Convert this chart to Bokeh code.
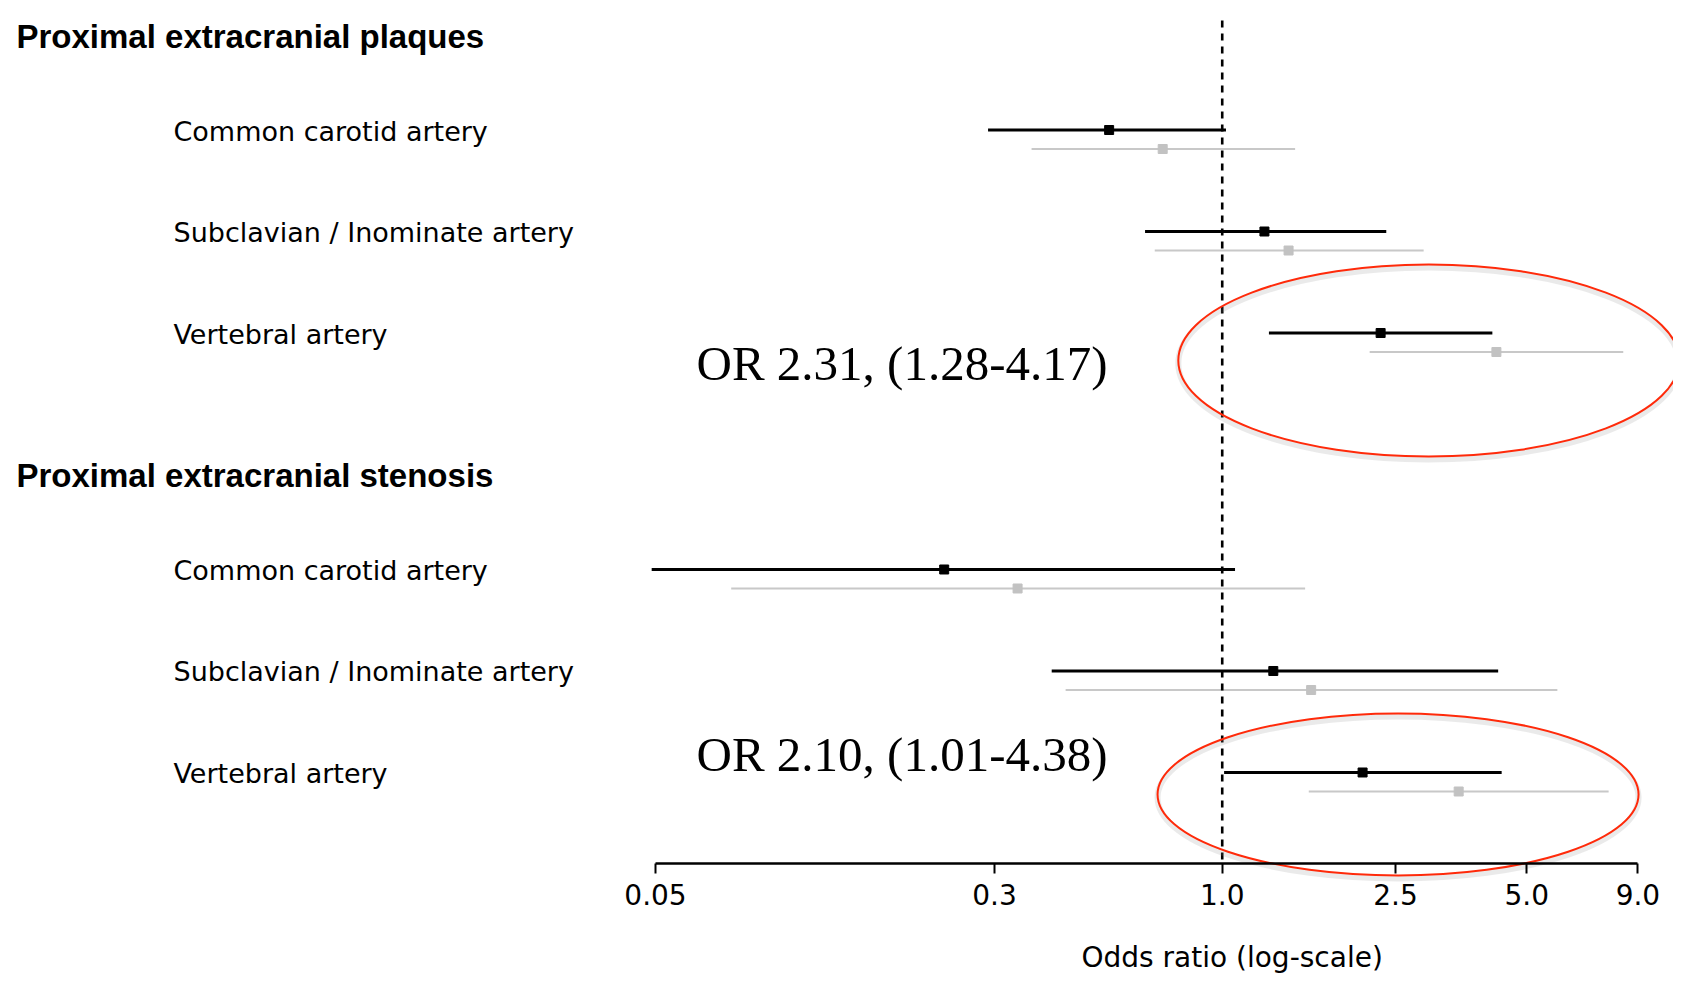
import math
from bokeh.plotting import figure
from bokeh.models import Range1d, FixedTicker, Title, CustomJSTickFormatter
from bokeh.core.properties import value
from bokeh.embed import file_html
from bokeh.resources import INLINE

# ---------------- data ----------------
sections = ["Proximal extracranial plaques", "Proximal extracranial stenosis"]
sites = ["Common carotid artery", "Subclavian / Inominate artery", "Vertebral artery"]

# black estimates (odds ratio with 95% CI), per row: plaques x3, stenosis x3
or_black = [0.55, 1.25, 2.31, 0.23, 1.31, 2.10]
lo_black = [0.29, 0.665, 1.28, 0.049, 0.406, 1.01]
hi_black = [1.02, 2.38, 4.17, 1.07, 4.30, 4.38]

# grey estimates
or_gray = [0.73, 1.42, 4.26, 0.339, 1.60, 3.49]
lo_gray = [0.365, 0.70, 2.18, 0.0746, 0.437, 1.58]
hi_gray = [1.47, 2.90, 8.33, 1.55, 5.88, 7.71]

tick_values = [0.05, 0.3, 1.0, 2.5, 5.0, 9.0]
tick_labels = ["0.05", "0.3", "1.0", "2.5", "5.0", "9.0"]
axis_title = "Odds ratio (log-scale)"

annotations = ["OR 2.31, (1.28-4.17)", "OR 2.10, (1.01-4.38)"]

# ---------------- layout helpers ----------------
LEFT = 8           # canvas px before the frame
TOP = 8
PX_DECADE = 435.6
X0_PX = 655.0      # page pixel of first tick (0.05)


def px2x(px):
    return 10 ** (math.log10(tick_values[0]) + (px - X0_PX) / PX_DECADE)


U = 101.5          # px per row slot
Y0 = 28.0          # page px of slot 0


def py2u(py):
    return (py - Y0) / U


FRAME_BOTTOM = 936
AXIS_Y = 863

row_slots = [1, 2, 3, 5.33, 6.33, 7.33]
gray_off = 19 / U
label_off = 1 / U
header_off = -94 / U

n = len(or_black)
y_black = row_slots
y_gray = [s + gray_off for s in row_slots]

p = figure(frame_width=1665, frame_height=FRAME_BOTTOM - TOP, x_axis_type="log",
           x_range=Range1d(px2x(LEFT), px2x(LEFT + 1665)),
           y_range=Range1d(py2u(FRAME_BOTTOM), py2u(TOP)),
           output_backend="svg", toolbar_location=None, y_axis_location=None,
           min_border_left=LEFT, min_border_right=0, min_border_top=TOP, min_border_bottom=0,
           background_fill_color="white", border_fill_color="white")
p.outline_line_color = None
p.grid.visible = False

# CI lines
p.segment(x0=lo_gray, x1=hi_gray, y0=y_gray, y1=y_gray, line_color="#c8c8c8", line_width=2.2)
p.segment(x0=lo_black, x1=hi_black, y0=y_black, y1=y_black, line_color="black", line_width=2.8)
p.scatter(x=or_gray, y=y_gray, marker="square", size=9, fill_color="#c2c2c2", line_color="#c2c2c2")
p.scatter(x=or_black, y=y_black, marker="square", size=9, fill_color="black", line_color="black")

# reference line at OR = 1
p.segment(x0=[1.0], x1=[1.0], y0=[py2u(20)], y1=[py2u(AXIS_Y)], line_color="black",
          line_width=2.6, line_dash="7 6")

# headers
header_y = [row_slots[0] + header_off, row_slots[3] + header_off]
p.text(x=[px2x(16)] * 2, y=header_y, text=sections, text_font=value("Liberation Sans"),
       text_font_style="bold", text_font_size="33px", text_baseline="alphabetic",
       text_color="black")

# row labels
p.text(x=[px2x(173)] * n, y=[s + label_off for s in row_slots], text=sites * 2,
       text_font=value("DejaVu Sans"), text_font_size="27px", text_baseline="alphabetic",
       text_color="black")

# OR annotations
p.text(x=[px2x(696)] * 2, y=[py2u(363), py2u(754)], text=annotations,
       text_font=value("Liberation Serif"), text_font_size="49px", text_baseline="alphabetic",
       text_color="black")

# red ellipses around vertebral artery rows
ex = [2.98, 2.533]
ey = [py2u(360), py2u(794)]
ew = [501, 481]
eh = [192, 162]
p.ellipse(x=ex, y=[v + 3 / U for v in ey], width=ew, height=eh, width_units="screen",
          height_units="screen", fill_color=None, line_color="#888888", line_alpha=0.18,
          line_width=6)
p.ellipse(x=ex, y=ey, width=ew, height=eh, width_units="screen", height_units="screen",
          fill_color=None, line_color="#ff2a0a", line_width=2)

# axis
ax = p.xaxis[0]
ax.fixed_location = py2u(AXIS_Y)
ax.ticker = FixedTicker(ticks=tick_values)
ax.formatter = CustomJSTickFormatter(args=dict(tvals=tick_values, tlabels=tick_labels), code="""
    for (let i = 0; i < tvals.length; i++) {
        if (Math.abs(tvals[i] - tick) < 1e-6 * tvals[i]) return tlabels[i];
    }
    return "";
""")
ax.bounds = (tick_values[0], tick_values[-1])
ax.axis_line_color = "black"
ax.axis_line_width = 2.5
ax.major_tick_line_color = "black"
ax.major_tick_line_width = 2
ax.major_tick_out = 10
ax.major_tick_in = 0
ax.minor_tick_line_color = None
ax.major_label_text_font = "DejaVu Sans"
ax.major_label_text_font_size = "28px"
ax.major_label_text_color = "black"
ax.major_label_standoff = 10

p.add_layout(Title(text=axis_title, align="left", offset=1081 - LEFT, standoff=4,
                   text_font="DejaVu Sans", text_font_size="28px", text_font_style="normal",
                   text_color="black"), "below")

open("out.html", "w").write(file_html(p, INLINE))
